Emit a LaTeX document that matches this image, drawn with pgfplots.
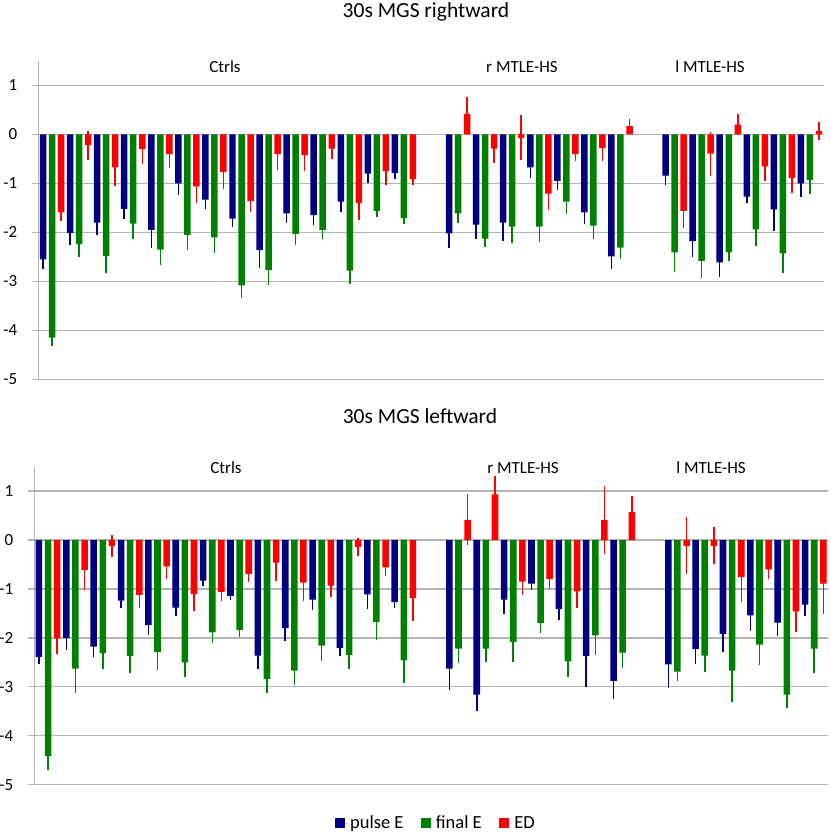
\documentclass[border=0pt]{standalone}
\usepackage{pgfplots}
\pgfplotsset{compat=1.18}
\usepackage{pgfplotstable}
\usepackage{fontspec}
\setmainfont{Carlito}
\definecolor{cP}{RGB}{0,0,128}
\definecolor{cF}{RGB}{0,128,0}
\definecolor{cD}{RGB}{255,0,0}
\definecolor{gridgray}{RGB}{180,180,180}

% g = subject slot, p/pe = pulse E, f/fe = final E, d/de = ED (value, error)
\pgfplotstableread{
g  p     pe    f     fe    d     de
0  -2.55 0.19 -4.15 0.17 -1.59 0.18
1  -2.01 0.24 -2.24 0.27 -0.22 0.30
2  -1.80 0.26 -2.48 0.34 -0.67 0.39
3  -1.52 0.21 -1.82 0.31 -0.30 0.31
4  -1.95 0.36 -2.35 0.31 -0.40 0.28
5  -1.00 0.24 -2.05 0.30 -1.06 0.34
6  -1.33 0.20 -2.10 0.33 -0.77 0.35
7  -1.72 0.18 -3.08 0.26 -1.36 0.22
8  -2.36 0.36 -2.77 0.31 -0.40 0.33
9  -1.61 0.19 -2.03 0.22 -0.42 0.33
10 -1.65 0.20 -1.95 0.18 -0.29 0.21
11 -1.37 0.22 -2.78 0.27 -1.40 0.35
12 -0.80 0.19 -1.56 0.13 -0.75 0.29
13 -0.79 0.12 -1.71 0.12 -0.91 0.12
15 -2.02 0.29 -1.61 0.20 0.42 0.34
16 -1.84 0.29 -2.13 0.17 -0.29 0.29
17 -1.80 0.37 -1.88 0.33 -0.07 0.46
18 -0.67 0.22 -1.88 0.32 -1.21 0.34
19 -0.95 0.19 -1.37 0.26 -0.40 0.15
20 -1.59 0.23 -1.86 0.27 -0.28 0.27
21 -2.49 0.25 -2.31 0.23 0.17 0.15
23 -0.84 0.19 -2.41 0.39 -1.56 0.35
24 -2.18 0.32 -2.58 0.35 -0.39 0.45
25 -2.61 0.30 -2.41 0.18 0.20 0.21
26 -1.27 0.12 -1.94 0.33 -0.65 0.30
27 -1.53 0.44 -2.43 0.40 -0.89 0.31
28 -1.00 0.27 -0.93 0.28 0.07 0.19
}\topdata

\pgfplotstableread{
g  p     pe    f     fe    d     de
0  -2.39 0.15 -4.41 0.29 -2.01 0.31
1  -2.00 0.24 -2.63 0.49 -0.61 0.42
2  -2.18 0.21 -2.31 0.32 -0.12 0.22
3  -1.24 0.15 -2.37 0.34 -1.12 0.26
4  -1.74 0.21 -2.29 0.37 -0.54 0.26
5  -1.38 0.18 -2.50 0.30 -1.10 0.36
6  -0.83 0.12 -1.89 0.22 -1.06 0.19
7  -1.14 0.08 -1.84 0.15 -0.69 0.17
8  -2.36 0.27 -2.84 0.28 -0.46 0.38
9  -1.80 0.26 -2.67 0.29 -0.87 0.37
10 -1.22 0.22 -2.16 0.31 -0.93 0.24
11 -2.21 0.17 -2.35 0.29 -0.14 0.19
12 -1.11 0.29 -1.68 0.37 -0.56 0.17
13 -1.27 0.12 -2.46 0.47 -1.18 0.48
15 -2.63 0.43 -2.22 0.29 0.41 0.52
16 -3.16 0.33 -2.22 0.27 0.93 0.37
17 -1.22 0.29 -2.08 0.41 -0.85 0.27
18 -0.89 0.13 -1.70 0.20 -0.80 0.20
19 -1.41 0.22 -2.48 0.32 -1.05 0.34
20 -2.37 0.63 -1.95 0.40 0.41 0.70
21 -2.88 0.37 -2.30 0.31 0.57 0.33
23 -2.54 0.49 -2.69 0.19 -0.12 0.58
24 -2.23 0.31 -2.36 0.34 -0.12 0.38
25 -1.92 0.36 -2.67 0.63 -0.76 0.50
26 -1.54 0.32 -2.14 0.42 -0.60 0.20
27 -1.69 0.27 -3.16 0.28 -1.46 0.42
28 -1.32 0.24 -2.22 0.50 -0.89 0.63
}\botdata

\pgfplotsset{
  panel/.style={
    scale only axis,
    xmin=-0.5, xmax=28.5, ymin=-5, ymax=1.5,
    enlargelimits=false,
    axis x line=none, axis y line*=left,
    y axis line style={draw=gridgray, line width=1.3pt},
    xtick=\empty,
    ytick={-5,-4,-3,-2,-1,0,1},
    yticklabels={-5,-4,-3,-2,-1,0,1},
    ymajorgrids, grid style={draw=gridgray, line width=1.3pt},
    tick align=outside, major tick length=6pt,
    tick style={draw=gridgray, line width=1.3pt},
    yticklabel style={font=\fontsize{17}{17}\selectfont, anchor=east, inner sep=0pt, xshift=-15pt},
    clip=false,
  },
  errs/.style={forget plot, draw=none, mark=none,
    error bars/.cd, y dir=both, y explicit, error mark=none,
    error bar style={draw=#1, line width=1.5pt, solid}},
  bars/.style={ybar, bar width=0.24, bar shift=0pt, fill=#1, draw=none, mark=none},
}
\tikzset{grp/.style={font=\fontsize{17}{17}\selectfont, anchor=base}}

\begin{document}
\begin{tikzpicture}
\useasboundingbox (0pt,0pt) rectangle (830pt,834pt);

\node[font=\fontsize{21.5}{21.5}\selectfont, anchor=base] at (426pt,816.7pt) {30s MGS rightward};
\node[font=\fontsize{21.5}{21.5}\selectfont, anchor=base] at (420pt,410pt) {30s MGS leftward};

% ---------- top panel ----------
\begin{axis}[panel, at={(38.5pt,454.7pt)}, anchor=south west, width=785pt, height=318.3pt]
\addplot[errs=cP] table[x expr=\thisrow{g}-0.3333, y=p, y error=pe]{\topdata};
\addplot[errs=cF] table[x expr=\thisrow{g}, y=f, y error=fe]{\topdata};
\addplot[errs=cD] table[x expr=\thisrow{g}+0.3333, y=d, y error=de]{\topdata};
\addplot[bars=cP] table[x expr=\thisrow{g}-0.3333, y=p]{\topdata};
\addplot[bars=cF] table[x expr=\thisrow{g}, y=f]{\topdata};
\addplot[bars=cD] table[x expr=\thisrow{g}+0.3333, y=d]{\topdata};
\node[grp] at (axis cs:6.39,1.255) {Ctrls};
\node[grp] at (axis cs:17.36,1.255) {r MTLE-HS};
\node[grp] at (axis cs:24.31,1.255) {l MTLE-HS};
\end{axis}

% ---------- bottom panel ----------
\begin{axis}[panel, at={(34.4pt,49.3pt)}, anchor=south west, width=793.5pt, height=318.1pt,
  legend style={at={(0.506,-0.1205)}, anchor=center, draw=none, fill=none,
    legend columns=3, font=\fontsize{18.5}{18.5}\selectfont,
    /tikz/every even column/.append style={column sep=15.5pt}},
  legend image code/.code={\fill[#1] (0pt,-5pt) rectangle (10pt,5pt); \path (0pt,0pt) -- (13pt,0pt);},
]
\addplot[errs=cP] table[x expr=\thisrow{g}-0.3333, y=p, y error=pe]{\botdata};
\addplot[errs=cF] table[x expr=\thisrow{g}, y=f, y error=fe]{\botdata};
\addplot[errs=cD] table[x expr=\thisrow{g}+0.3333, y=d, y error=de]{\botdata};
\addplot[bars=cP] table[x expr=\thisrow{g}-0.3333, y=p]{\botdata};
\addlegendentry{pulse E}
\addplot[bars=cF] table[x expr=\thisrow{g}, y=f]{\botdata};
\addlegendentry{final E}
\addplot[bars=cD] table[x expr=\thisrow{g}+0.3333, y=d]{\botdata};
\addlegendentry{ED}
\node[grp] at (axis cs:6.5,1.36) {Ctrls};
\node[grp] at (axis cs:17.36,1.36) {r MTLE-HS};
\node[grp] at (axis cs:24.23,1.36) {l MTLE-HS};
\end{axis}
\end{tikzpicture}
\end{document}
